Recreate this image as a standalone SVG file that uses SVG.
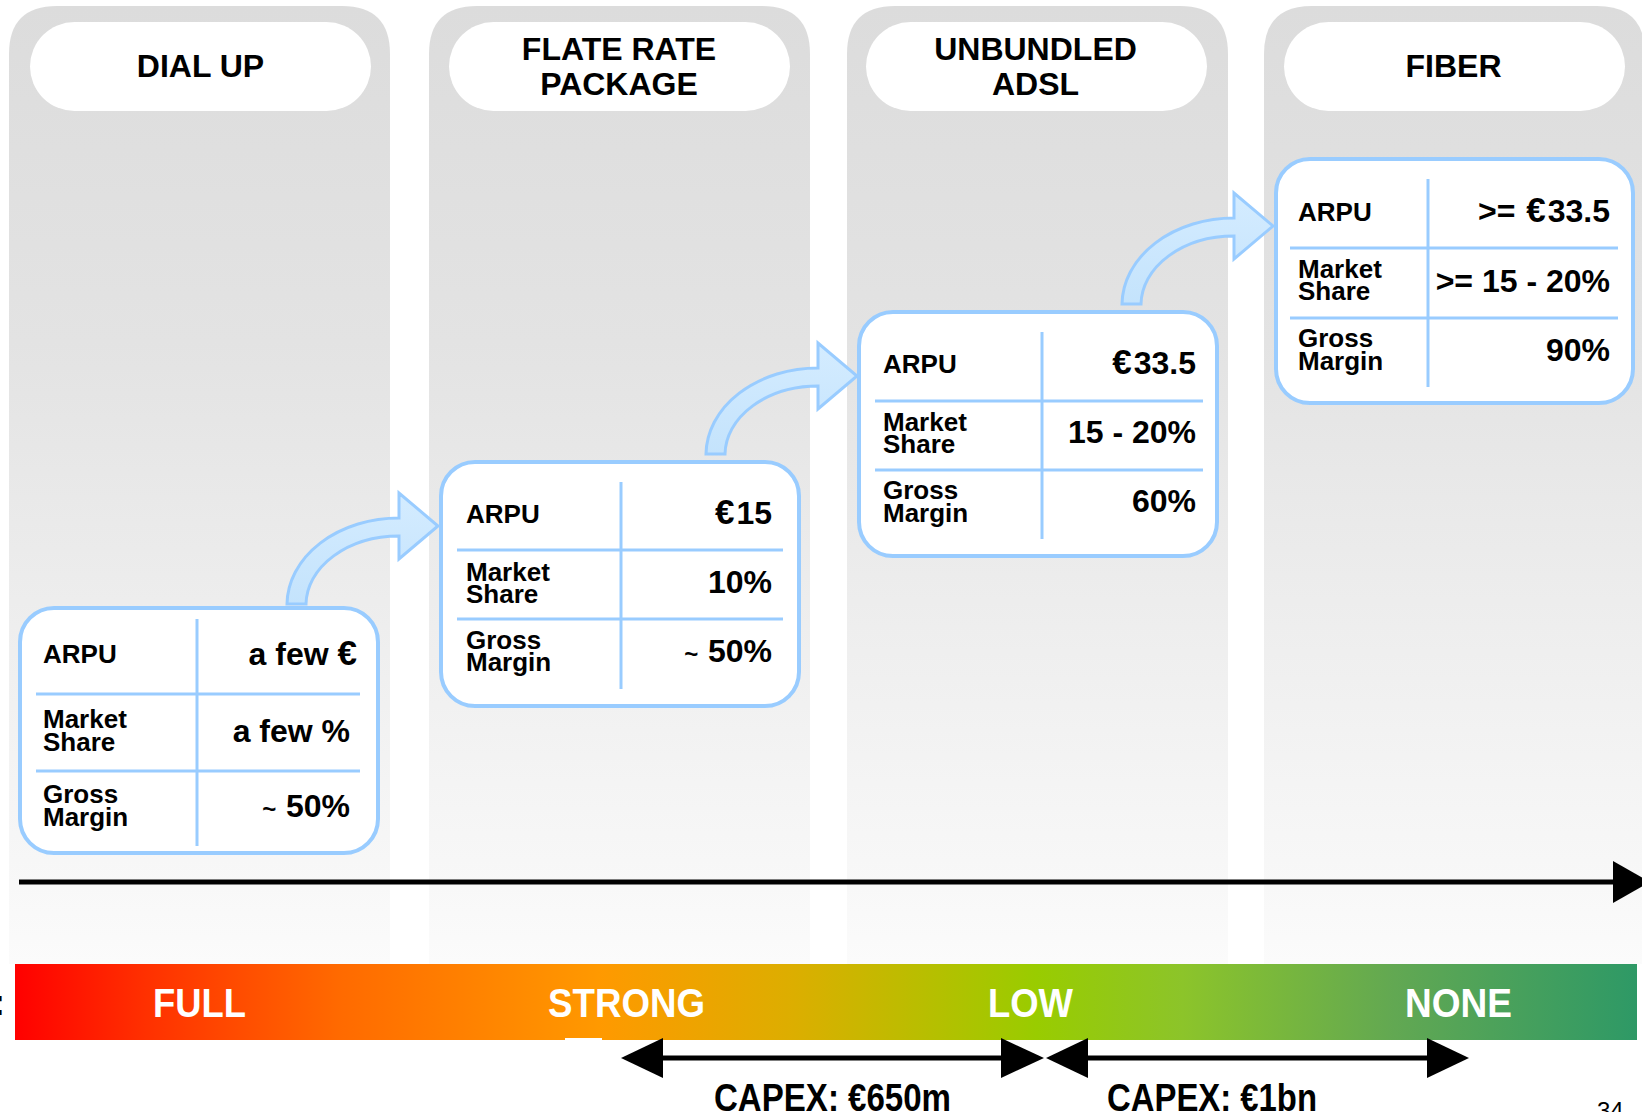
<svg xmlns="http://www.w3.org/2000/svg" width="1642" height="1112" viewBox="0 0 1642 1112">
<defs>
<linearGradient id="panelGrad" x1="0" y1="6" x2="0" y2="964" gradientUnits="userSpaceOnUse">
<stop offset="0" stop-color="#dcdcdc"/>
<stop offset="0.35" stop-color="#e3e3e3"/>
<stop offset="1" stop-color="#fbfbfb"/>
</linearGradient>
<linearGradient id="barGrad" x1="15" y1="0" x2="1637" y2="0" gradientUnits="userSpaceOnUse">
<stop offset="0" stop-color="#ff0000"/>
<stop offset="0.08" stop-color="#ff3000"/>
<stop offset="0.2" stop-color="#ff6a00"/>
<stop offset="0.36" stop-color="#ff9900"/>
<stop offset="0.48" stop-color="#dcae00"/>
<stop offset="0.63" stop-color="#99cc00"/>
<stop offset="0.72" stop-color="#8cc42a"/>
<stop offset="0.85" stop-color="#62a852"/>
<stop offset="1" stop-color="#2e9966"/>
</linearGradient>
<linearGradient id="arrowGrad" x1="0" y1="0" x2="0" y2="1">
<stop offset="0" stop-color="#d4ecff"/>
<stop offset="1" stop-color="#c4e3fc"/>
</linearGradient>
<path id="curveArrow" d="M 287 604 A 112 87 0 0 1 399 518 L 399 493 L 438 526 L 399 559 L 399 536 A 93 69 0 0 0 306 604 Z"/>
</defs>
<style>
.panel{fill:url(#panelGrad);}
.pill{fill:#ffffff;}
.head{font-family:"Liberation Sans",Arial,sans-serif;font-weight:bold;font-size:32px;fill:#000;text-anchor:middle;}
.card{fill:#ffffff;stroke:#99ccff;stroke-width:4;}
.div{stroke:#99ccff;stroke-width:3;fill:none;}
.lab{font-family:"Liberation Sans",Arial,sans-serif;font-weight:bold;font-size:26px;fill:#000;}
.val{font-family:"Liberation Sans",Arial,sans-serif;font-weight:bold;font-size:32px;fill:#000;text-anchor:end;}
.eur{font-size:35px;}
.tl{font-size:24px;}
.carrow{fill:url(#arrowGrad);stroke:#99ccff;stroke-width:3;stroke-linejoin:miter;}
.bartext{font-family:"Liberation Sans",Arial,sans-serif;font-weight:bold;font-size:40px;fill:#ffffff;}
.capex{font-family:"Liberation Sans",Arial,sans-serif;font-weight:bold;font-size:38px;fill:#000;}
.line{stroke:#000;stroke-width:5;}
</style>
<rect x="0" y="0" width="1642" height="1112" fill="#ffffff"/>

<g id="panels">
<path class="panel" d="M 9 964 L 9 54 Q 9 6 57 6 L 342 6 Q 390 6 390 54 L 390 964 Z"/>
<path class="panel" d="M 429 964 L 429 54 Q 429 6 477 6 L 762 6 Q 810 6 810 54 L 810 964 Z"/>
<path class="panel" d="M 847 964 L 847 54 Q 847 6 895 6 L 1180 6 Q 1228 6 1228 54 L 1228 964 Z"/>
<path class="panel" d="M 1264 964 L 1264 54 Q 1264 6 1312 6 L 1597 6 Q 1645 6 1645 54 L 1645 964 Z"/>
</g>

<g id="header-dialup">
<rect class="pill" x="30" y="22" width="341" height="89" rx="44.5"/>
<text class="head" x="200.5" y="77">DIAL UP</text>
</g>
<g id="header-flaterate">
<rect class="pill" x="449" y="22" width="341" height="89" rx="44.5"/>
<text class="head" x="619" y="60">FLATE RATE</text>
<text class="head" x="619" y="95">PACKAGE</text>
</g>
<g id="header-adsl">
<rect class="pill" x="866" y="22" width="341" height="89" rx="44.5"/>
<text class="head" x="1035.5" y="60">UNBUNDLED</text>
<text class="head" x="1035.5" y="95">ADSL</text>
</g>
<g id="header-fiber">
<rect class="pill" x="1284" y="22" width="341" height="89" rx="44.5"/>
<text class="head" x="1453.5" y="77">FIBER</text>
</g>

<g id="connectors">
<use href="#curveArrow" class="carrow"/>
<use href="#curveArrow" class="carrow" transform="translate(419,-150)"/>
<use href="#curveArrow" class="carrow" transform="translate(835,-300)"/>
<line class="line" x1="19" y1="882" x2="1615" y2="882"/>
<polygon points="1613,861 1650,882 1613,903" fill="#000"/>
</g>

<g id="card-dialup" transform="translate(20,608)">
<rect class="card" x="0" y="0" width="358" height="245" rx="34"/>
<line class="div" x1="177" y1="11" x2="177" y2="238"/>
<line class="div" x1="16" y1="86" x2="340" y2="86"/>
<line class="div" x1="16" y1="163" x2="340" y2="163"/>
<text class="lab" x="23" y="55">ARPU</text>
<text class="lab" x="23" y="120">Market</text>
<text class="lab" x="23" y="143">Share</text>
<text class="lab" x="23" y="195">Gross</text>
<text class="lab" x="23" y="218">Margin</text>
<text class="val" x="337" y="57">a few <tspan class="eur">€</tspan></text>
<text class="val" x="330" y="134">a few %</text>
<text class="val" x="330" y="209"><tspan class="tl">~ </tspan><tspan dx="3">50%</tspan></text>
</g>

<g id="card-flaterate" transform="translate(441,462)">
<rect class="card" x="0" y="0" width="358" height="244" rx="34"/>
<line class="div" x1="180" y1="20" x2="180" y2="227"/>
<line class="div" x1="16" y1="88" x2="342" y2="88"/>
<line class="div" x1="16" y1="157" x2="342" y2="157"/>
<text class="lab" x="25" y="61">ARPU</text>
<text class="lab" x="25" y="119">Market</text>
<text class="lab" x="25" y="141">Share</text>
<text class="lab" x="25" y="187">Gross</text>
<text class="lab" x="25" y="209">Margin</text>
<text class="val" x="331" y="62"><tspan class="eur">€</tspan><tspan dx="2">15</tspan></text>
<text class="val" x="331" y="131">10%</text>
<text class="val" x="331" y="200"><tspan class="tl">~ </tspan><tspan dx="3">50%</tspan></text>
</g>

<g id="card-adsl" transform="translate(859,312)">
<rect class="card" x="0" y="0" width="358" height="244" rx="34"/>
<line class="div" x1="183" y1="20" x2="183" y2="227"/>
<line class="div" x1="16" y1="89" x2="344" y2="89"/>
<line class="div" x1="16" y1="158" x2="344" y2="158"/>
<text class="lab" x="24" y="61">ARPU</text>
<text class="lab" x="24" y="119">Market</text>
<text class="lab" x="24" y="141">Share</text>
<text class="lab" x="24" y="187">Gross</text>
<text class="lab" x="24" y="210">Margin</text>
<text class="val" x="337" y="62"><tspan class="eur">€</tspan><tspan dx="2">33.5</tspan></text>
<text class="val" x="337" y="131">15 - 20%</text>
<text class="val" x="337" y="200">60%</text>
</g>

<g id="card-fiber" transform="translate(1276,159)">
<rect class="card" x="0" y="0" width="357" height="244" rx="34"/>
<line class="div" x1="152" y1="20" x2="152" y2="228"/>
<line class="div" x1="14" y1="89" x2="342" y2="89"/>
<line class="div" x1="14" y1="159" x2="342" y2="159"/>
<text class="lab" x="22" y="62">ARPU</text>
<text class="lab" x="22" y="119">Market</text>
<text class="lab" x="22" y="141">Share</text>
<text class="lab" x="22" y="188">Gross</text>
<text class="lab" x="22" y="211">Margin</text>
<text class="val" x="334" y="63">&gt;= <tspan class="eur" dx="2">€</tspan><tspan dx="2">33.5</tspan></text>
<text class="val" x="334" y="133">&gt;= 15 - 20%</text>
<text class="val" x="334" y="202">90%</text>
</g>

<g id="competition-bar">
<rect x="15" y="964" width="1622" height="76" fill="url(#barGrad)"/>
<rect x="565" y="1038" width="37" height="4" fill="#ffffff"/>
<text class="bartext" x="153" y="1017" textLength="93" lengthAdjust="spacingAndGlyphs">FULL</text>
<text class="bartext" x="548" y="1017" textLength="157" lengthAdjust="spacingAndGlyphs">STRONG</text>
<text class="bartext" x="988" y="1017" textLength="85" lengthAdjust="spacingAndGlyphs">LOW</text>
<text class="bartext" x="1405" y="1017" textLength="107" lengthAdjust="spacingAndGlyphs">NONE</text>
<text x="-7" y="1015" font-family="Liberation Sans, Arial, sans-serif" font-weight="bold" font-size="36" fill="#000">:</text>
</g>

<g id="capex-650">
<line class="line" x1="660" y1="1058" x2="1004" y2="1058"/>
<polygon points="621,1058 663,1038 663,1078" fill="#000"/>
<polygon points="1001,1038 1044,1058 1001,1078" fill="#000"/>
<text class="capex" x="714" y="1111" textLength="237" lengthAdjust="spacingAndGlyphs">CAPEX: €650m</text>
</g>
<g id="capex-1bn">
<line class="line" x1="1085" y1="1058" x2="1430" y2="1058"/>
<polygon points="1046,1058 1088,1038 1088,1078" fill="#000"/>
<polygon points="1427,1038 1469,1058 1427,1078" fill="#000"/>
<text class="capex" x="1107" y="1111" textLength="210" lengthAdjust="spacingAndGlyphs">CAPEX: €1bn</text>
</g>

<text x="1597" y="1119" font-family="Liberation Sans, Arial, sans-serif" font-size="24" fill="#000">34</text>
</svg>
